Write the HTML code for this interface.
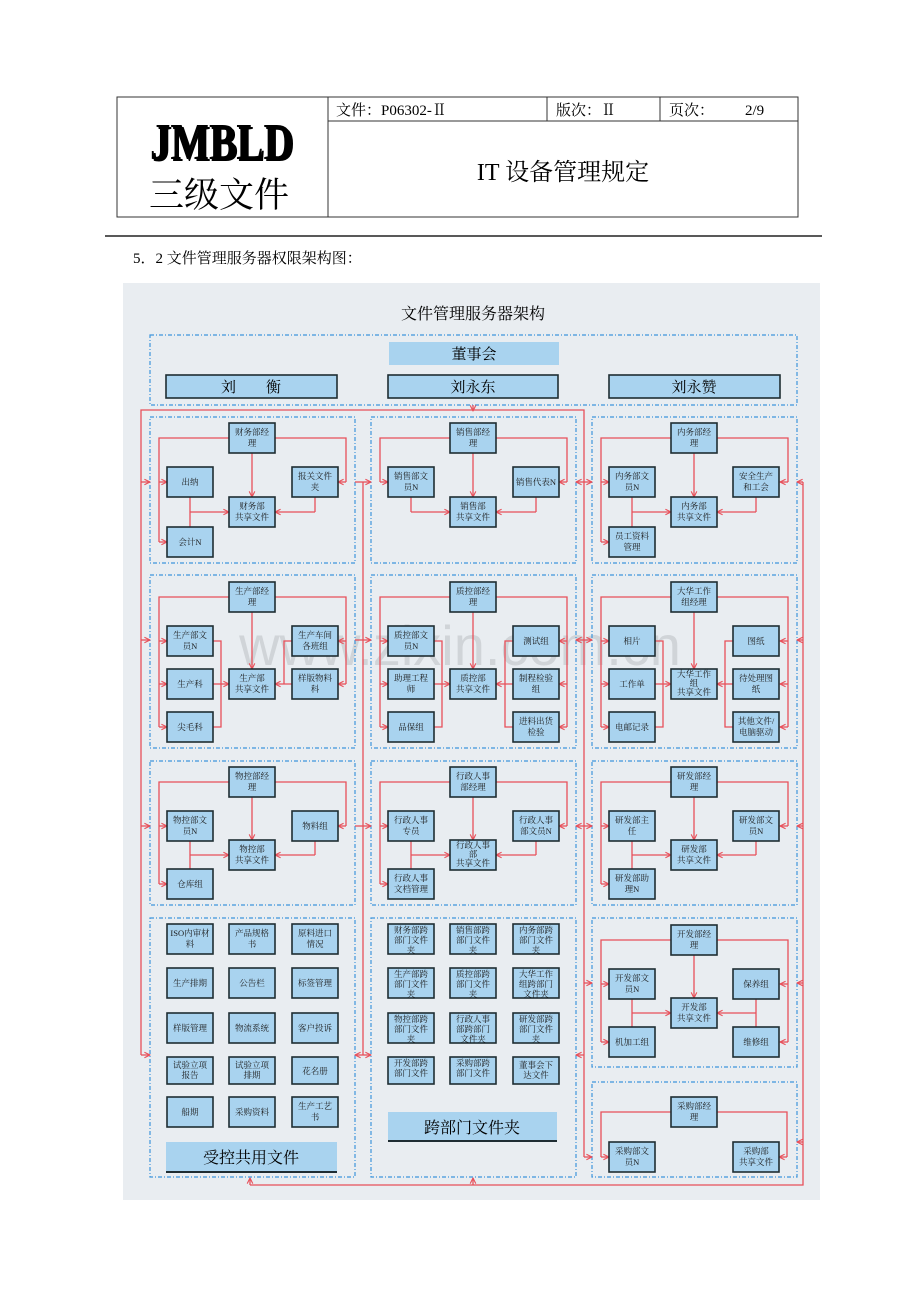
<!DOCTYPE html>
<html><head><meta charset="utf-8">
<style>
html,body{margin:0;padding:0;background:#fff;}
svg{display:block;}
.b{fill:#a9d3ef;stroke:#1f2d33;stroke-width:1.6}
.t{font-family:"Liberation Serif","Noto Serif CJK SC",serif;font-size:8.5px;text-anchor:middle;fill:#1a1a1a}
.p{fill:none;stroke:#3f96dc;stroke-width:1.2;stroke-dasharray:4 2 1 2}
.r{fill:none;stroke:#e8505a;stroke-width:1.3}
.ra{fill:none;stroke:#e8505a;stroke-width:1.3;marker-end:url(#a)}
.rb{fill:none;stroke:#e8505a;stroke-width:1.3;marker-end:url(#a);marker-start:url(#a)}
.h{font-family:"Liberation Serif","Noto Serif CJK SC",serif;fill:#000}
</style></head><body>
<svg width="920" height="1302" viewBox="0 0 920 1302" xmlns="http://www.w3.org/2000/svg">
<defs>
<marker id="a" viewBox="0 0 10 10" refX="9" refY="5" markerWidth="7" markerHeight="7" orient="auto-start-reverse" markerUnits="userSpaceOnUse"><path d="M1,1 L9,5 L1,9" fill="none" stroke="#e8505a" stroke-width="1.6"/></marker>
</defs>
<!-- header -->
<g fill="none" stroke="#333" stroke-width="1">
<rect x="117" y="97" width="681" height="120"/>
<line x1="328" y1="97" x2="328" y2="217"/>
<line x1="328" y1="121" x2="798" y2="121"/>
<line x1="547" y1="97" x2="547" y2="121"/>
<line x1="660" y1="97" x2="660" y2="121"/>
</g>
<line x1="105" y1="236" x2="822" y2="236" stroke="#222" stroke-width="1.5"/>
<text class="h" x="152" y="161" font-size="52" font-weight="bold" textLength="143" lengthAdjust="spacingAndGlyphs" fill="#999">JMBLD</text>
<text class="h" x="150" y="159" font-size="52" font-weight="bold" textLength="143" lengthAdjust="spacingAndGlyphs">JMBLD</text>
<text class="h" x="149" y="207" font-size="35">三级文件</text>
<text class="h" x="336" y="115" font-size="15">文件：P06302-Ⅱ</text>
<text class="h" x="556" y="115" font-size="15">版次：Ⅱ</text>
<text class="h" x="669" y="115" font-size="15">页次：</text>
<text class="h" x="745" y="115" font-size="15">2/9</text>
<text class="h" x="563" y="180" font-size="24" text-anchor="middle">IT 设备管理规定</text>
<text class="h" x="133" y="263" font-size="15" fill="#222">5．2 文件管理服务器权限架构图：</text>

<!-- diagram bg -->
<rect x="123" y="283" width="697" height="917" fill="#e9edf1"/>
<text x="460" y="665" text-anchor="middle" font-family="Liberation Sans,sans-serif" font-size="56" fill="#b9bcc0" opacity="0.5">www.zixin.com.cn</text>
<text class="h" x="473" y="319" font-size="16" text-anchor="middle" fill="#222">文件管理服务器架构</text>

<rect class="p" x="150" y="335" width="647" height="70"/>
<rect x="389" y="342" width="170" height="23" fill="#a9d3ef"/>
<text class="h" x="474" y="359" font-size="15" text-anchor="middle">董事会</text>
<rect class="b" x="166" y="375" width="171" height="23"/>
<rect class="b" x="388" y="375" width="170" height="23"/>
<rect class="b" x="609" y="375" width="171" height="23"/>
<text class="h" x="251" y="392" font-size="15" text-anchor="middle">刘　　衡</text>
<text class="h" x="473" y="392" font-size="15" text-anchor="middle">刘永东</text>
<text class="h" x="694" y="392" font-size="15" text-anchor="middle">刘永赞</text>

<!-- panels -->
<rect class="p" x="150" y="417" width="205" height="146"/>
<rect class="p" x="371" y="417" width="205" height="146"/>
<rect class="p" x="592" y="417" width="205" height="146"/>
<rect class="p" x="150" y="575" width="205" height="173"/>
<rect class="p" x="371" y="575" width="205" height="173"/>
<rect class="p" x="592" y="575" width="205" height="173"/>
<rect class="p" x="150" y="761" width="205" height="144"/>
<rect class="p" x="371" y="761" width="205" height="144"/>
<rect class="p" x="592" y="761" width="205" height="144"/>
<rect class="p" x="150" y="918" width="205" height="259"/>
<rect class="p" x="371" y="918" width="205" height="259"/>
<rect class="p" x="592" y="918" width="205" height="149"/>
<rect class="p" x="592" y="1082" width="205" height="95"/>

<!-- outer red network -->
<path class="r" d="M141,1055 V410 H584 V1157"/>
<path class="ra" d="M473,405 V411"/>
<path class="r" d="M363,482 V1055"/>
<path class="r" d="M803,482 V1185 H250"/>
<path class="ra" d="M250,1185 V1178"/>
<path class="ra" d="M473,1185 V1178"/>
<path class="ra" d="M141,482 H150"/><path class="ra" d="M141,640 H150"/><path class="ra" d="M141,826 H150"/><path class="ra" d="M141,1055 H150"/>
<path class="ra" d="M355,482 H371"/><path class="ra" d="M355,640 H371"/><path class="ra" d="M355,826 H371"/><path class="rb" d="M355,1055 H371"/>
<path class="rb" d="M576,482 H592"/><path class="rb" d="M576,640 H592"/><path class="rb" d="M576,826 H592"/>
<path class="ra" d="M584,1055 H576"/><path class="ra" d="M584,983 H592"/><path class="ra" d="M584,1157 H592"/>
<path class="ra" d="M803,482 H797"/><path class="ra" d="M803,640 H797"/><path class="ra" d="M803,826 H797"/><path class="ra" d="M803,983 H797"/><path class="ra" d="M803,1142 H797"/>

<!-- ROW1 connectors -->
<!-- col1 l=167 m=229 r=292 -->
<path class="r" d="M229,438 H159 V542"/><path class="ra" d="M159,482 H167"/><path class="ra" d="M159,542 H167"/>
<path class="r" d="M275,438 H346 V482"/><path class="ra" d="M346,482 H338"/>
<path class="ra" d="M252,453 V497"/>
<path class="r" d="M190,497 V527"/><path class="ra" d="M190,512 H229"/>
<path class="r" d="M315,497 V512"/><path class="ra" d="M315,512 H275"/>
<!-- col2 -->
<path class="r" d="M450,438 H380 V482"/><path class="ra" d="M380,482 H388"/>
<path class="r" d="M496,438 H567 V482"/><path class="ra" d="M567,482 H559"/>
<path class="ra" d="M473,453 V497"/>
<path class="r" d="M411,497 V512"/><path class="ra" d="M411,512 H450"/>
<path class="r" d="M536,497 V512"/><path class="ra" d="M536,512 H496"/>
<!-- col3 -->
<path class="r" d="M671,438 H601 V542"/><path class="ra" d="M601,482 H609"/><path class="ra" d="M601,542 H609"/>
<path class="r" d="M717,438 H788 V482"/><path class="ra" d="M788,482 H780"/>
<path class="ra" d="M694,453 V497"/>
<path class="r" d="M632,497 V527"/><path class="ra" d="M632,512 H671"/>
<path class="r" d="M756,497 V512"/><path class="ra" d="M756,512 H717"/>

<!-- ROW2 connectors a=626 b=669 c=712 ; mids 641 684 727 -->
<path class="r" d="M229,597 H159 V727"/><path class="ra" d="M159,641 H167"/><path class="ra" d="M159,684 H167"/><path class="ra" d="M159,727 H167"/>
<path class="r" d="M275,597 H346 V684"/><path class="ra" d="M346,641 H338"/><path class="ra" d="M346,684 H338"/>
<path class="ra" d="M252,612 V669"/>
<path class="r" d="M213,641 H221 V727 H213"/><path class="ra" d="M213,684 H229"/>
<path class="r" d="M292,641 H284 V684"/><path class="ra" d="M292,684 H275"/>

<path class="r" d="M450,597 H380 V727"/><path class="ra" d="M380,641 H388"/><path class="ra" d="M380,684 H388"/><path class="ra" d="M380,727 H388"/>
<path class="r" d="M496,597 H567 V727"/><path class="ra" d="M567,641 H559"/><path class="ra" d="M567,684 H559"/><path class="ra" d="M567,727 H559"/>
<path class="ra" d="M473,612 V669"/>
<path class="r" d="M434,641 H442 V727 H434"/><path class="ra" d="M434,684 H450"/>
<path class="r" d="M513,641 H505 V727 H513"/><path class="ra" d="M513,684 H496"/>

<path class="r" d="M671,597 H601 V727"/><path class="ra" d="M601,641 H609"/><path class="ra" d="M601,684 H609"/><path class="ra" d="M601,727 H609"/>
<path class="r" d="M717,597 H788 V727"/><path class="ra" d="M788,641 H780"/><path class="ra" d="M788,684 H780"/><path class="ra" d="M788,727 H780"/>
<path class="ra" d="M694,612 V669"/>
<path class="r" d="M655,641 H663 V727 H655"/><path class="ra" d="M655,684 H671"/>
<path class="r" d="M733,641 H725 V727 H733"/><path class="ra" d="M733,684 H717"/>

<!-- ROW3 connectors mgr 767 a 811 sh 840 bot 869 -->
<path class="r" d="M229,782 H159 V884"/><path class="ra" d="M159,826 H167"/><path class="ra" d="M159,884 H167"/>
<path class="r" d="M275,782 H346 V826"/><path class="ra" d="M346,826 H338"/>
<path class="ra" d="M252,797 V840"/>
<path class="r" d="M190,841 V869"/><path class="ra" d="M190,855 H229"/>
<path class="r" d="M315,841 V855"/><path class="ra" d="M315,855 H275"/>

<path class="r" d="M450,782 H380 V884"/><path class="ra" d="M380,826 H388"/><path class="ra" d="M380,884 H388"/>
<path class="r" d="M496,782 H567 V826"/><path class="ra" d="M567,826 H559"/>
<path class="ra" d="M473,797 V840"/>
<path class="r" d="M411,841 V869"/><path class="ra" d="M411,855 H450"/>
<path class="r" d="M536,841 V855"/><path class="ra" d="M536,855 H496"/>

<path class="r" d="M671,782 H601 V884"/><path class="ra" d="M601,826 H609"/><path class="ra" d="M601,884 H609"/>
<path class="r" d="M717,782 H788 V826"/><path class="ra" d="M788,826 H780"/>
<path class="ra" d="M694,797 V840"/>
<path class="r" d="M632,841 V869"/><path class="ra" d="M632,855 H671"/>
<path class="r" d="M756,841 V855"/><path class="ra" d="M756,855 H717"/>

<!-- ROW4 col3 -->
<path class="r" d="M671,940 H601 V1042"/><path class="ra" d="M601,984 H609"/><path class="ra" d="M601,1042 H609"/>
<path class="r" d="M717,940 H788 V1042"/><path class="ra" d="M788,984 H780"/><path class="ra" d="M788,1042 H780"/>
<path class="ra" d="M694,955 V998"/>
<path class="r" d="M632,999 V1027"/><path class="ra" d="M632,1013 H671"/>
<path class="r" d="M756,999 V1027"/><path class="ra" d="M756,1013 H717"/>
<path class="r" d="M671,1112 H601 V1157"/><path class="ra" d="M601,1157 H609"/>
<path class="r" d="M717,1112 H787 V1157"/><path class="ra" d="M787,1157 H779"/>

<!-- BOXES -->
<g>
<!-- row1 col1 -->
<rect class="b" x="229" y="423" width="46" height="30"/><text class="t" x="252" y="435">财务部经<tspan x="252" dy="11">理</tspan></text>
<rect class="b" x="167" y="467" width="46" height="30"/><text class="t" x="190" y="485">出纳</text>
<rect class="b" x="292" y="467" width="46" height="30"/><text class="t" x="315" y="479">报关文件<tspan x="315" dy="11">夹</tspan></text>
<rect class="b" x="229" y="497" width="46" height="30"/><text class="t" x="252" y="509">财务部<tspan x="252" dy="11">共享文件</tspan></text>
<rect class="b" x="167" y="527" width="46" height="30"/><text class="t" x="190" y="545">会计N</text>
<!-- row1 col2 -->
<rect class="b" x="450" y="423" width="46" height="30"/><text class="t" x="473" y="435">销售部经<tspan x="473" dy="11">理</tspan></text>
<rect class="b" x="388" y="467" width="46" height="30"/><text class="t" x="411" y="479">销售部文<tspan x="411" dy="11">员N</tspan></text>
<rect class="b" x="513" y="467" width="46" height="30"/><text class="t" x="536" y="485">销售代表N</text>
<rect class="b" x="450" y="497" width="46" height="30"/><text class="t" x="473" y="509">销售部<tspan x="473" dy="11">共享文件</tspan></text>
<!-- row1 col3 -->
<rect class="b" x="671" y="423" width="46" height="30"/><text class="t" x="694" y="435">内务部经<tspan x="694" dy="11">理</tspan></text>
<rect class="b" x="609" y="467" width="46" height="30"/><text class="t" x="632" y="479">内务部文<tspan x="632" dy="11">员N</tspan></text>
<rect class="b" x="733" y="467" width="46" height="30"/><text class="t" x="756" y="479">安全生产<tspan x="756" dy="11">和工会</tspan></text>
<rect class="b" x="671" y="497" width="46" height="30"/><text class="t" x="694" y="509">内务部<tspan x="694" dy="11">共享文件</tspan></text>
<rect class="b" x="609" y="527" width="46" height="30"/><text class="t" x="632" y="539">员工资料<tspan x="632" dy="11">管理</tspan></text>

<!-- row2 col1 -->
<rect class="b" x="229" y="582" width="46" height="30"/><text class="t" x="252" y="594">生产部经<tspan x="252" dy="11">理</tspan></text>
<rect class="b" x="167" y="626" width="46" height="30"/><text class="t" x="190" y="638">生产部文<tspan x="190" dy="11">员N</tspan></text>
<rect class="b" x="167" y="669" width="46" height="30"/><text class="t" x="190" y="687">生产科</text>
<rect class="b" x="167" y="712" width="46" height="30"/><text class="t" x="190" y="730">尖毛科</text>
<rect class="b" x="292" y="626" width="46" height="30"/><text class="t" x="315" y="638">生产车间<tspan x="315" dy="11">各班组</tspan></text>
<rect class="b" x="292" y="669" width="46" height="30"/><text class="t" x="315" y="681">样版物料<tspan x="315" dy="11">科</tspan></text>
<rect class="b" x="229" y="669" width="46" height="30"/><text class="t" x="252" y="681">生产部<tspan x="252" dy="11">共享文件</tspan></text>
<!-- row2 col2 -->
<rect class="b" x="450" y="582" width="46" height="30"/><text class="t" x="473" y="594">质控部经<tspan x="473" dy="11">理</tspan></text>
<rect class="b" x="388" y="626" width="46" height="30"/><text class="t" x="411" y="638">质控部文<tspan x="411" dy="11">员N</tspan></text>
<rect class="b" x="388" y="669" width="46" height="30"/><text class="t" x="411" y="681">助理工程<tspan x="411" dy="11">师</tspan></text>
<rect class="b" x="388" y="712" width="46" height="30"/><text class="t" x="411" y="730">品保组</text>
<rect class="b" x="513" y="626" width="46" height="30"/><text class="t" x="536" y="644">测试组</text>
<rect class="b" x="513" y="669" width="46" height="30"/><text class="t" x="536" y="681">制程检验<tspan x="536" dy="11">组</tspan></text>
<rect class="b" x="513" y="712" width="46" height="30"/><text class="t" x="536" y="724">进料出货<tspan x="536" dy="11">检验</tspan></text>
<rect class="b" x="450" y="669" width="46" height="30"/><text class="t" x="473" y="681">质控部<tspan x="473" dy="11">共享文件</tspan></text>
<!-- row2 col3 -->
<rect class="b" x="671" y="582" width="46" height="30"/><text class="t" x="694" y="594">大华工作<tspan x="694" dy="11">组经理</tspan></text>
<rect class="b" x="609" y="626" width="46" height="30"/><text class="t" x="632" y="644">相片</text>
<rect class="b" x="609" y="669" width="46" height="30"/><text class="t" x="632" y="687">工作单</text>
<rect class="b" x="609" y="712" width="46" height="30"/><text class="t" x="632" y="730">电邮记录</text>
<rect class="b" x="733" y="626" width="46" height="30"/><text class="t" x="756" y="644">图纸</text>
<rect class="b" x="733" y="669" width="46" height="30"/><text class="t" x="756" y="681">待处理图<tspan x="756" dy="11">纸</tspan></text>
<rect class="b" x="733" y="712" width="46" height="30"/><text class="t" x="756" y="724">其他文件/<tspan x="756" dy="11">电脑驱动</tspan></text>
<rect class="b" x="671" y="669" width="46" height="30"/><text class="t" x="694" y="677">大华工作<tspan x="694" dy="9">组</tspan><tspan x="694" dy="9">共享文件</tspan></text>

<!-- row3 col1 -->
<rect class="b" x="229" y="767" width="46" height="30"/><text class="t" x="252" y="779">物控部经<tspan x="252" dy="11">理</tspan></text>
<rect class="b" x="167" y="811" width="46" height="30"/><text class="t" x="190" y="823">物控部文<tspan x="190" dy="11">员N</tspan></text>
<rect class="b" x="292" y="811" width="46" height="30"/><text class="t" x="315" y="829">物料组</text>
<rect class="b" x="229" y="840" width="46" height="30"/><text class="t" x="252" y="852">物控部<tspan x="252" dy="11">共享文件</tspan></text>
<rect class="b" x="167" y="869" width="46" height="30"/><text class="t" x="190" y="887">仓库组</text>
<!-- row3 col2 -->
<rect class="b" x="450" y="767" width="46" height="30"/><text class="t" x="473" y="779">行政人事<tspan x="473" dy="11">部经理</tspan></text>
<rect class="b" x="388" y="811" width="46" height="30"/><text class="t" x="411" y="823">行政人事<tspan x="411" dy="11">专员</tspan></text>
<rect class="b" x="513" y="811" width="46" height="30"/><text class="t" x="536" y="823">行政人事<tspan x="536" dy="11">部文员N</tspan></text>
<rect class="b" x="450" y="840" width="46" height="30"/><text class="t" x="473" y="848">行政人事<tspan x="473" dy="9">部</tspan><tspan x="473" dy="9">共享文件</tspan></text>
<rect class="b" x="388" y="869" width="46" height="30"/><text class="t" x="411" y="881">行政人事<tspan x="411" dy="11">文档管理</tspan></text>
<!-- row3 col3 -->
<rect class="b" x="671" y="767" width="46" height="30"/><text class="t" x="694" y="779">研发部经<tspan x="694" dy="11">理</tspan></text>
<rect class="b" x="609" y="811" width="46" height="30"/><text class="t" x="632" y="823">研发部主<tspan x="632" dy="11">任</tspan></text>
<rect class="b" x="733" y="811" width="46" height="30"/><text class="t" x="756" y="823">研发部文<tspan x="756" dy="11">员N</tspan></text>
<rect class="b" x="671" y="840" width="46" height="30"/><text class="t" x="694" y="852">研发部<tspan x="694" dy="11">共享文件</tspan></text>
<rect class="b" x="609" y="869" width="46" height="30"/><text class="t" x="632" y="881">研发部助<tspan x="632" dy="11">理N</tspan></text>

<!-- row4 col1 grid -->
<rect class="b" x="167" y="924" width="46" height="30"/><text class="t" x="190" y="936">ISO内审材<tspan x="190" dy="11">料</tspan></text>
<rect class="b" x="229" y="924" width="46" height="30"/><text class="t" x="252" y="936">产品规格<tspan x="252" dy="11">书</tspan></text>
<rect class="b" x="292" y="924" width="46" height="30"/><text class="t" x="315" y="936">原料进口<tspan x="315" dy="11">情况</tspan></text>
<rect class="b" x="167" y="968" width="46" height="30"/><text class="t" x="190" y="986">生产排期</text>
<rect class="b" x="229" y="968" width="46" height="30"/><text class="t" x="252" y="986">公告栏</text>
<rect class="b" x="292" y="968" width="46" height="30"/><text class="t" x="315" y="986">标签管理</text>
<rect class="b" x="167" y="1013" width="46" height="30"/><text class="t" x="190" y="1031">样版管理</text>
<rect class="b" x="229" y="1013" width="46" height="30"/><text class="t" x="252" y="1031">物流系统</text>
<rect class="b" x="292" y="1013" width="46" height="30"/><text class="t" x="315" y="1031">客户投诉</text>
<rect class="b" x="167" y="1057" width="46" height="27"/><text class="t" x="190" y="1068">试验立项<tspan x="190" dy="10">报告</tspan></text>
<rect class="b" x="229" y="1057" width="46" height="27"/><text class="t" x="252" y="1068">试验立项<tspan x="252" dy="10">排期</tspan></text>
<rect class="b" x="292" y="1057" width="46" height="27"/><text class="t" x="315" y="1074">花名册</text>
<rect class="b" x="167" y="1097" width="46" height="30"/><text class="t" x="190" y="1115">船期</text>
<rect class="b" x="229" y="1097" width="46" height="30"/><text class="t" x="252" y="1115">采购资料</text>
<rect class="b" x="292" y="1097" width="46" height="30"/><text class="t" x="315" y="1109">生产工艺<tspan x="315" dy="11">书</tspan></text>
<rect x="166" y="1142" width="171" height="30" fill="#a9d3ef"/><line x1="166" y1="1172" x2="337" y2="1172" stroke="#1f2d33" stroke-width="2"/>
<text class="h" x="251" y="1163" font-size="16" text-anchor="middle">受控共用文件</text>

<!-- row4 col2 grid -->
<rect class="b" x="388" y="924" width="46" height="30"/><text class="t" x="411" y="933">财务部跨<tspan x="411" dy="10">部门文件</tspan><tspan x="411" dy="10">夹</tspan></text>
<rect class="b" x="450" y="924" width="46" height="30"/><text class="t" x="473" y="933">销售部跨<tspan x="473" dy="10">部门文件</tspan><tspan x="473" dy="10">夹</tspan></text>
<rect class="b" x="513" y="924" width="46" height="30"/><text class="t" x="536" y="933">内务部跨<tspan x="536" dy="10">部门文件</tspan><tspan x="536" dy="10">夹</tspan></text>
<rect class="b" x="388" y="968" width="46" height="30"/><text class="t" x="411" y="977">生产部跨<tspan x="411" dy="10">部门文件</tspan><tspan x="411" dy="10">夹</tspan></text>
<rect class="b" x="450" y="968" width="46" height="30"/><text class="t" x="473" y="977">质控部跨<tspan x="473" dy="10">部门文件</tspan><tspan x="473" dy="10">夹</tspan></text>
<rect class="b" x="513" y="968" width="46" height="30"/><text class="t" x="536" y="977">大华工作<tspan x="536" dy="10">组跨部门</tspan><tspan x="536" dy="10">文件夹</tspan></text>
<rect class="b" x="388" y="1013" width="46" height="30"/><text class="t" x="411" y="1022">物控部跨<tspan x="411" dy="10">部门文件</tspan><tspan x="411" dy="10">夹</tspan></text>
<rect class="b" x="450" y="1013" width="46" height="30"/><text class="t" x="473" y="1022">行政人事<tspan x="473" dy="10">部跨部门</tspan><tspan x="473" dy="10">文件夹</tspan></text>
<rect class="b" x="513" y="1013" width="46" height="30"/><text class="t" x="536" y="1022">研发部跨<tspan x="536" dy="10">部门文件</tspan><tspan x="536" dy="10">夹</tspan></text>
<rect class="b" x="388" y="1057" width="46" height="27"/><text class="t" x="411" y="1066">开发部跨<tspan x="411" dy="10">部门文件</tspan></text>
<rect class="b" x="450" y="1057" width="46" height="27"/><text class="t" x="473" y="1066">采购部跨<tspan x="473" dy="10">部门文件</tspan></text>
<rect class="b" x="513" y="1057" width="46" height="27"/><text class="t" x="536" y="1068">董事会下<tspan x="536" dy="10">达文件</tspan></text>
<rect x="388" y="1112" width="169" height="29" fill="#a9d3ef"/><line x1="388" y1="1141" x2="557" y2="1141" stroke="#1f2d33" stroke-width="2"/>
<text class="h" x="472" y="1133" font-size="16" text-anchor="middle">跨部门文件夹</text>

<!-- row4 col3 -->
<rect class="b" x="671" y="925" width="46" height="30"/><text class="t" x="694" y="937">开发部经<tspan x="694" dy="11">理</tspan></text>
<rect class="b" x="609" y="969" width="46" height="30"/><text class="t" x="632" y="981">开发部文<tspan x="632" dy="11">员N</tspan></text>
<rect class="b" x="733" y="969" width="46" height="30"/><text class="t" x="756" y="987">保养组</text>
<rect class="b" x="671" y="998" width="46" height="30"/><text class="t" x="694" y="1010">开发部<tspan x="694" dy="11">共享文件</tspan></text>
<rect class="b" x="609" y="1027" width="46" height="30"/><text class="t" x="632" y="1045">机加工组</text>
<rect class="b" x="733" y="1027" width="46" height="30"/><text class="t" x="756" y="1045">维修组</text>
<rect class="b" x="671" y="1097" width="46" height="30"/><text class="t" x="694" y="1109">采购部经<tspan x="694" dy="11">理</tspan></text>
<rect class="b" x="609" y="1142" width="46" height="30"/><text class="t" x="632" y="1154">采购部文<tspan x="632" dy="11">员N</tspan></text>
<rect class="b" x="733" y="1142" width="46" height="30"/><text class="t" x="756" y="1154">采购部<tspan x="756" dy="11">共享文件</tspan></text>
</g>
</svg>
</body></html>
